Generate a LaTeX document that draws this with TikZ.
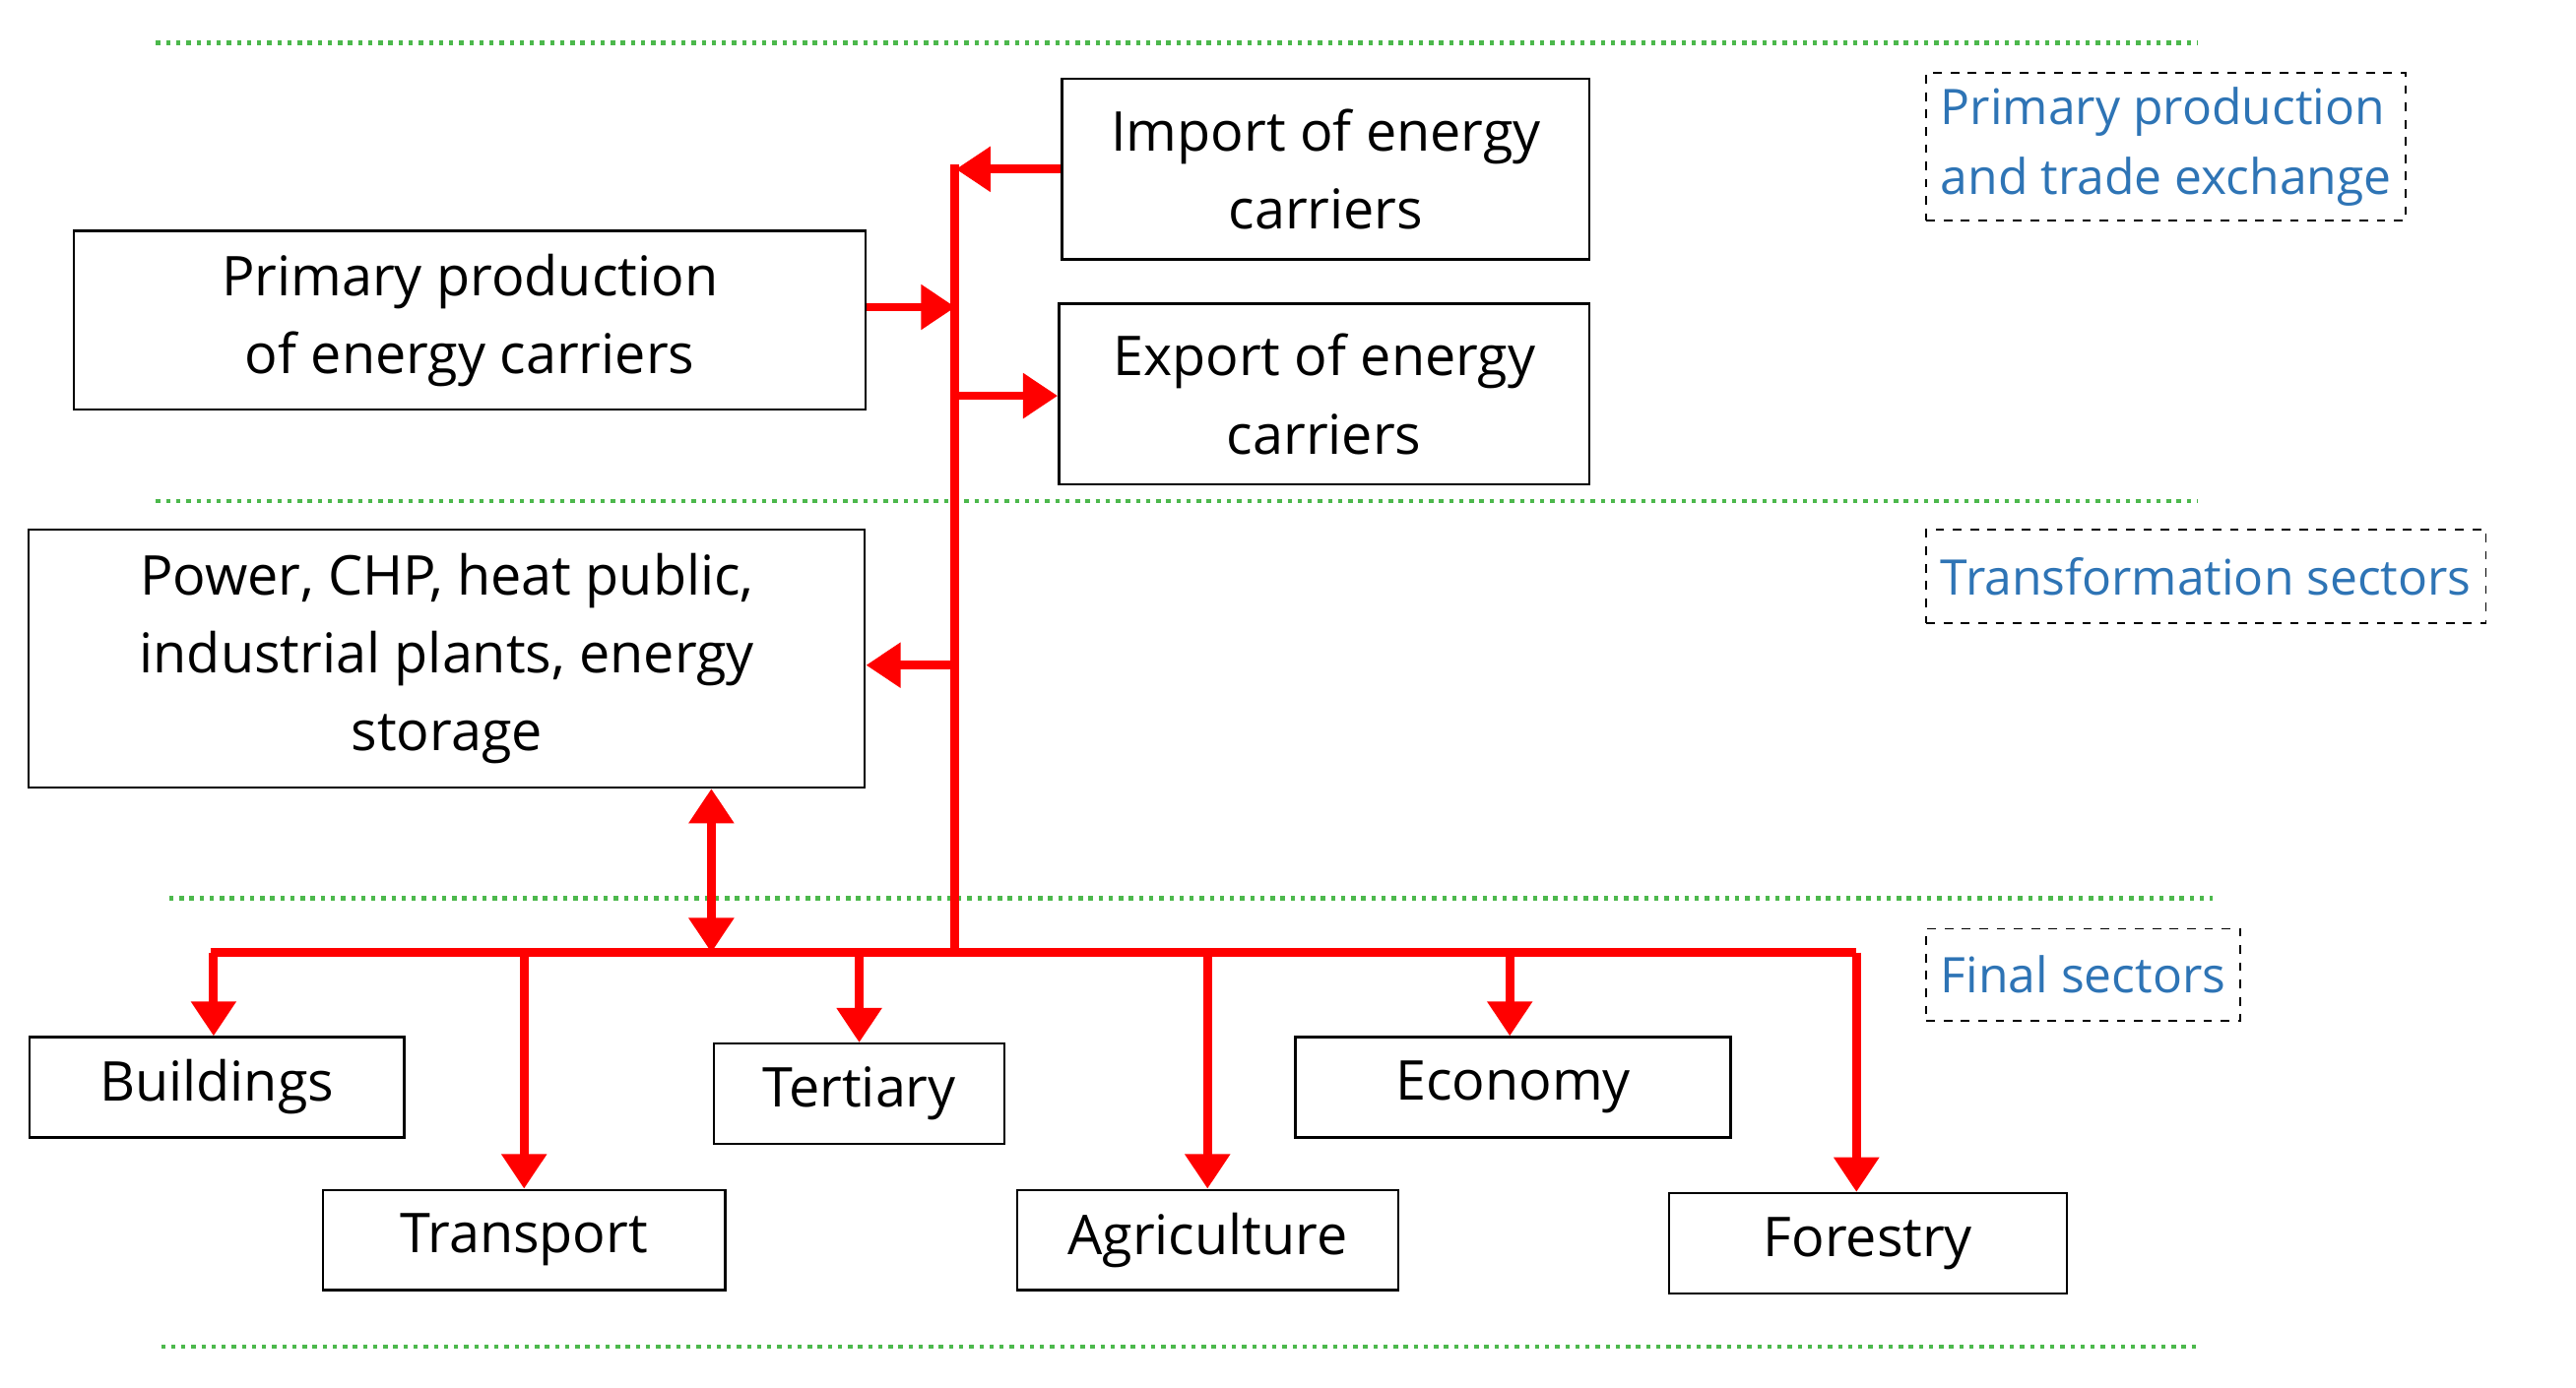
\documentclass[tikz,border=0pt]{standalone}
\usepackage{fontspec}
\setmainfont{Open Sans}
\usetikzlibrary{arrows.meta}
\definecolor{labblue}{RGB}{46,116,181}
\begin{document}
\begin{tikzpicture}[x=0.02cm,y=-0.02cm,
 box/.style={draw,line width=0.8pt,minimum height=1.22cm,align=center,font=\fontsize{19}{27}\selectfont,inner sep=0pt},
 lab/.style={draw,dashed,line width=0.6pt,align=left,text=labblue,font=\fontsize{17}{24}\selectfont,anchor=north west,inner sep=5pt},
 rl/.style={draw=red,line width=3pt},
 ra/.style={rl,-{Triangle[length=12pt,width=15pt]}},
 gl/.style={draw=green!60!black!70,line width=1.5pt,dash pattern=on 1.5pt off 2pt}]
\useasboundingbox (0,0) rectangle (1568,845);
\draw[gl] (95,26)--(1338,26);
\draw[gl] (95,305)--(1338,305);
\draw[gl] (103,547)--(1347,547);
\draw[gl] (98,820)--(1340,820);
\node[box,minimum width=6.42cm,minimum height=2.2cm] (imp) at (807,103) {Import of energy\\carriers};
\node[box,minimum width=6.46cm,minimum height=2.2cm] (exp) at (806,240) {Export of energy\\carriers};
\node[box,minimum width=9.64cm,minimum height=2.18cm] (pp) at (286,195) {Primary production\\of energy carriers};
\node[box,minimum width=10.18cm,minimum height=3.14cm] (pw) at (272,401) {Power, CHP, heat public,\\industrial plants, energy\\storage};
\node[box,minimum width=4.56cm] (bu) at (132,662) {Buildings};
\node[box,minimum width=4.9cm] (tr) at (319,755) {Transport};
\node[box,minimum width=3.54cm] (te) at (523,666) {Tertiary};
\node[box,minimum width=4.64cm] (ag) at (735,755) {Agriculture};
\node[box,minimum width=5.3cm] (ec) at (921,662) {Economy};
\node[box,minimum width=4.84cm] (fo) at (1137,757) {Forestry};
\node[lab] (l1) at (1172,44) {Primary production\\and trade exchange};
\node[lab,minimum height=1.14cm] (l2) at (1172,322) {Transformation sectors};
\node[lab,minimum height=1.12cm] (l3) at (1172,565) {Final sectors};
\coordinate (t1) at (581,100);
\coordinate (t2) at (581,580);
\coordinate (b1) at (128,580);
\coordinate (b2) at (1130,580);
\coordinate (dd) at (433,580);
\draw[rl] (t1)--(t2);
\draw[rl] (b1)--(b2);
\draw[ra] (imp.west|-t1) ++(0,3) -- ++(-64,0);
\draw[ra] (pp.east) ++(0,-8) -- ++(54,0);
\draw[ra] (exp.west) ++(-64,1) -- ++(64,0);
\draw[ra] (pw.east) ++(54,4) -- ++(-54,0);
\draw[rl,{Triangle[length=12pt,width=15pt]}-{Triangle[length=12pt,width=15pt]}] (pw.south-|dd) -- (dd);
\draw[ra] (130,580) -- (bu.north-|130,0);
\draw[ra] (319,580) -- (tr.north);
\draw[ra] (523,580) -- (te.north);
\draw[ra] (735,580) -- (ag.north);
\draw[ra] (919,580) -- (ec.north-|919,0);
\draw[ra] (1130,580) -- (fo.north-|1130,0);
\end{tikzpicture}
\end{document}
